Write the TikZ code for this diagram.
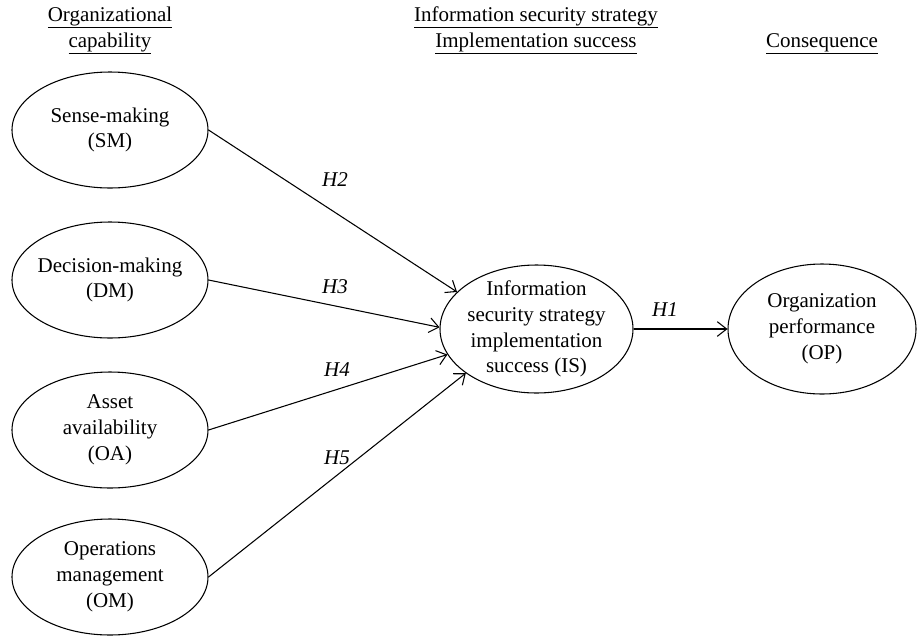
\documentclass[tikz,border=0pt]{standalone}
\usepackage{fontspec}
\setmainfont{Liberation Serif}
\usetikzlibrary{arrows.meta,shapes.geometric}
\begin{document}
\begin{tikzpicture}[x=0.75pt,y=-0.75pt,
  every node/.style={font=\fontsize{15.75}{19.3}\selectfont},
  construct/.style={ellipse,draw,line width=0.8pt,inner sep=0pt,minimum width=147pt,minimum height=87pt},
  hyp/.style={-{Straight Barb[length=7pt,width=11pt]},line width=0.8pt},
  hlab/.style={font=\fontsize{15.75}{19.3}\selectfont\itshape},
  head/.style={anchor=base}]
\useasboundingbox (0,0) rectangle (917,636);
% headers
\node[head] (h1a) at (110,21) {\underline{Organizational}};
\node[head] (h1b) at (110,47) {\underline{capability}};
\node[head] (h2a) at (536,21) {\underline{Information security strategy}};
\node[head] (h2b) at (536,47) {\underline{Implementation success}};
\node[head] (h3)  at (822,47) {\underline{Consequence}};
% constructs
\node[construct,label={[align=center]center:Sense-making\\(SM)}] (SM) at (110,130) {};
\node[construct,label={[align=center]center:Decision-making\\(DM)}] (DM) at (110,280) {};
\node[construct,label={[align=center]center:Asset\\availability\\(OA)}] (OA) at (110,430) {};
\node[construct,label={[align=center]center:Operations\\management\\(OM)}] (OM) at (110,577) {};
\node[construct,minimum width=144.75pt,minimum height=96pt,
  label={[align=center]center:Information\\security strategy\\implementation\\success (IS)}] (IS) at (536.5,329) {};
\node[construct,minimum width=141pt,minimum height=97.5pt,
  label={[align=center]center:Organization\\performance\\(OP)}] (OP) at (822,329) {};
% hypotheses
\draw[hyp] (SM.east) -- (IS.155);
\draw[hyp] (DM.east) -- (IS.179);
\draw[hyp] (OA.east) -- (IS.196);
\draw[hyp] (OM.east) -- (IS.212);
\draw[hyp] (IS.east) -- (OP.west);
\node[hlab] (l2) at (335,180) {H2};
\node[hlab] (l3) at (335,287) {H3};
\node[hlab] (l4) at (337,370) {H4};
\node[hlab] (l5) at (337,458) {H5};
\node[hlab] (l1) at (665,310) {H1};
\end{tikzpicture}
\end{document}
